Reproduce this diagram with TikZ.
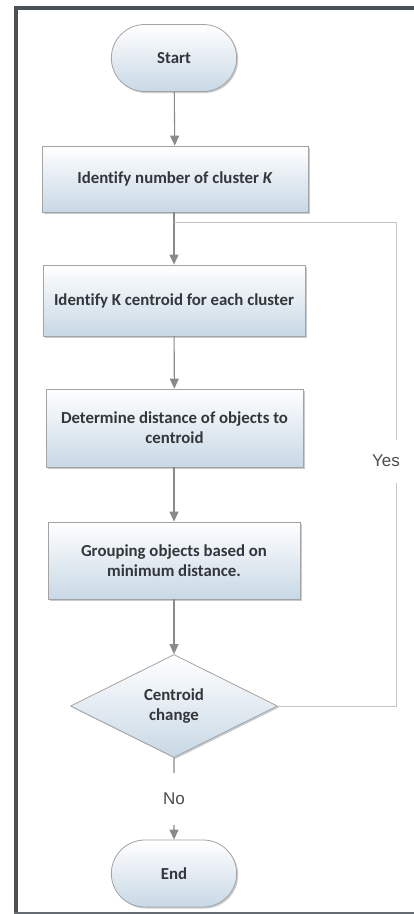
\documentclass[tikz,border=0pt]{standalone}
\usepackage{fontspec}
\setmainfont{Liberation Sans}
\newfontfamily\boxfont[Ligatures=NoCommon]{Carlito}
\usetikzlibrary{shapes.geometric,shapes.misc,shadows,arrows.meta,positioning}

\definecolor{framegray}{HTML}{4A5258}
\definecolor{boxbot}{HTML}{C8D8E5}
\definecolor{edgegray}{HTML}{A3A3A3}
\definecolor{textgray}{HTML}{33363A}
\definecolor{flowgray}{HTML}{8A8A8A}
\definecolor{loopgray}{HTML}{C4C4C4}

\tikzset{
  base/.style={draw=edgegray, line width=0.8pt, top color=white, bottom color=boxbot,
    drop shadow={shadow xshift=1.5pt, shadow yshift=-1.5pt, fill=black!40},
    text=textgray, font=\boxfont\bfseries\fontsize{16.8}{20}\selectfont, align=center},
  terminal/.style={base, rounded rectangle, minimum width=132pt, minimum height=67pt},
  process/.style={base, rectangle, inner sep=0pt},
  decision/.style={base, diamond, inner sep=0pt, minimum width=207pt, minimum height=103pt},
  flow/.style={draw=flowgray, line width=1.1pt, -{Triangle[length=10pt,width=9pt]}},
  loopline/.style={draw=loopgray, line width=1pt},
  answer/.style={fill=white, inner xsep=1pt, text=black!70, font=\fontsize{17}{20}\selectfont}
}

\begin{document}
\begin{tikzpicture}[x=1pt, y=-1pt]
  \useasboundingbox[fill=white] (0,0) rectangle (414,914);
  % frame
  \fill[framegray] (14,6) rectangle (414,10);
  \fill[framegray] (14,6) rectangle (18,914);
  \fill[framegray!85] (14,911.5) rectangle (414,914);

  \node[terminal] (start) at (174,58) {Start};
  \node[process, minimum width=266pt, minimum height=66pt] (clusters) at (175,179)
    {Identify number of cluster \textit{K}};
  \node[process, minimum width=262pt, minimum height=71pt] (centroids) at (174,300.5)
    {Identify K centroid for each cluster};
  \node[process, minimum width=257pt, minimum height=78pt] (distance) at (174.5,428)
    {Determine distance of objects to\\centroid};
  \node[process, minimum width=252pt, minimum height=77pt] (grouping) at (174,560.5)
    {Grouping objects based on\\minimum distance.};
  \node[decision] (change) at (174,706) {Centroid\\change};
  \node[terminal] (end) at (174,873.5) {End};

  \coordinate (join) at (174,222);
  \coordinate (turn) at (396,706);

  \draw[flow] (start) -- (clusters);
  \draw[flow] (clusters.south -| join) -- (centroids.north -| join);
  \draw[flow] (centroids) -- (distance);
  \draw[flow] (distance.south -| join) -- (grouping.north -| join);
  \draw[flow] (grouping) -- (change);
  \draw[flow] (change) -- node[answer, minimum height=52pt] {No} (end);

  \draw[loopline] (change.east) -- (turn) |- (join);
  \node[answer, minimum height=43pt] (yes) at (386,461) {Yes};
\end{tikzpicture}
\end{document}
